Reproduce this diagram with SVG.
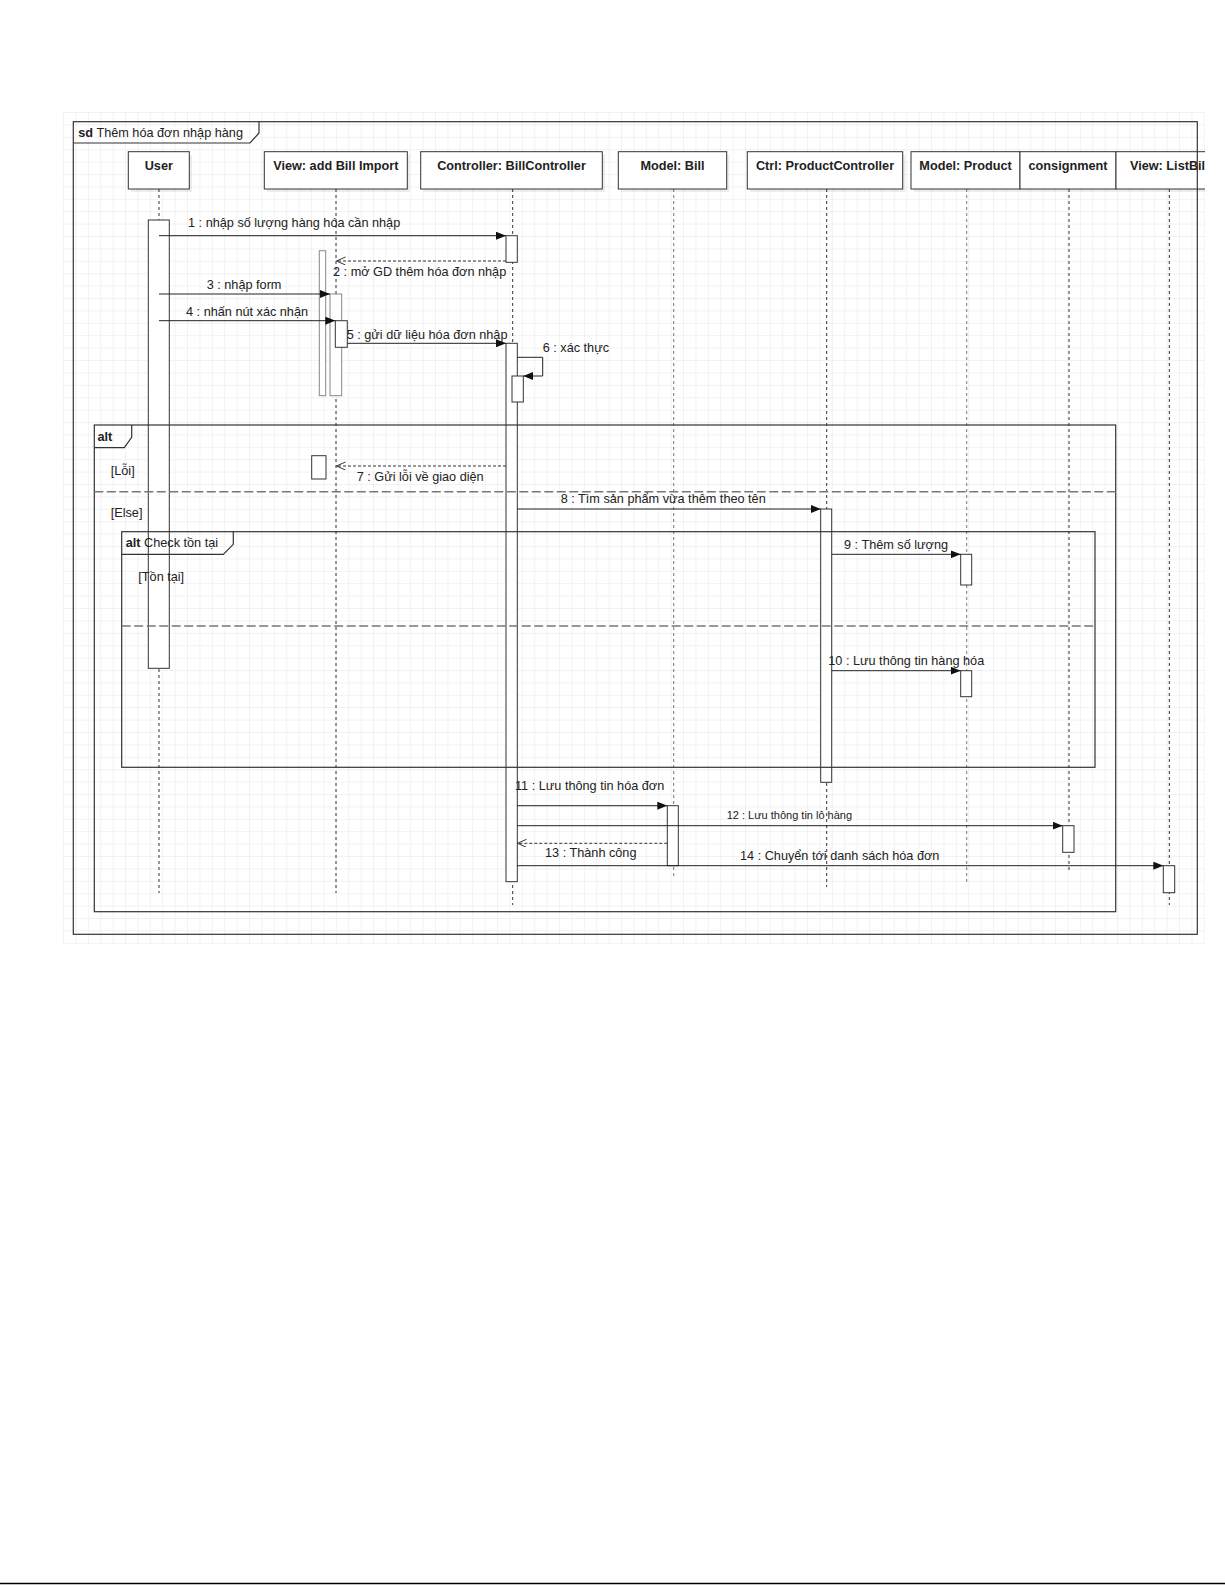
<svg xmlns="http://www.w3.org/2000/svg" width="1225" height="1585" viewBox="0 0 1225 1585">
<style>
.t{font-family:"Liberation Sans",Arial,sans-serif;font-size:12.7px;fill:#222}
.s{font-size:11px}
.b{font-weight:bold}
.box{fill:#fff;stroke:#333;stroke-width:1}
.shd{fill:#000;opacity:0.07}
.life{stroke:#333;stroke-width:1;stroke-dasharray:3 3;fill:none}
.lifeg{stroke:#777;stroke-width:1;stroke-dasharray:3 3;fill:none}
.act{fill:#fff;stroke:#333;stroke-width:1}
.actg{fill:#fff;stroke:#888;stroke-width:1}
.frame{fill:none;stroke:#333;stroke-width:1.2}
.sep{stroke:#777;stroke-width:1.6;stroke-dasharray:9 3.5;fill:none}
.msg{stroke:#222;stroke-width:1;fill:none;marker-end:url(#filled)}
.ret{stroke:#333;stroke-width:1;stroke-dasharray:3 2;fill:none;marker-end:url(#open)}
</style>
<defs>
<pattern id="grid" x="63" y="112" width="12.4" height="12.4" patternUnits="userSpaceOnUse">
<path d="M0 0 V12.4 M0 0 H12.4" stroke="#e6e6e6" stroke-width="1" fill="none"/>
</pattern>
<clipPath id="clip"><rect x="0" y="0" width="1205" height="1585"/></clipPath>
<marker id="filled" markerWidth="10" markerHeight="8" refX="10" refY="4" orient="auto" markerUnits="userSpaceOnUse">
<path d="M0,0 L10,4 L0,8 z" fill="#111"/>
</marker>
<marker id="open" markerWidth="10" markerHeight="10" refX="9" refY="4" orient="auto" markerUnits="userSpaceOnUse">
<path d="M0,0 L9,4 L0,8" fill="none" stroke="#333" stroke-width="1"/>
</marker>
</defs>
<rect x="0" y="0" width="1225" height="1585" fill="#fff"/>
<g clip-path="url(#clip)">
<rect x="63" y="112" width="1142" height="833" fill="url(#grid)"/>

<!-- lifelines -->
<g id="lifelines">
<line class="life" x1="159" y1="189" x2="159" y2="893"/>
<line class="life" x1="336" y1="189" x2="336" y2="893"/>
<line class="life" x1="512.7" y1="189" x2="512.7" y2="905"/>
<line class="lifeg" x1="673.7" y1="189" x2="673.7" y2="877"/>
<line class="life" x1="826.7" y1="189" x2="826.7" y2="887"/>
<line class="lifeg" x1="966.7" y1="189" x2="966.7" y2="882"/>
<line class="life" x1="1069" y1="189" x2="1069" y2="871"/>
<line class="life" x1="1169.3" y1="189" x2="1169.3" y2="905"/>
</g>

<!-- lifeline heads -->
<g id="user">
<rect class="shd" x="131" y="155" width="61" height="37"/>
<rect class="box" x="128.3" y="151.7" width="61" height="37.3"/>
<text class="t b" x="158.8" y="169.5" text-anchor="middle">User</text>
</g>
<g id="view-add-bill">
<rect class="shd" x="267" y="155" width="143" height="37"/>
<rect class="box" x="264.3" y="151.7" width="143" height="37.3"/>
<text class="t b" x="335.8" y="169.5" text-anchor="middle">View: add Bill Import</text>
</g>
<g id="bill-controller">
<rect class="shd" x="423.5" y="155" width="181.6" height="37"/>
<rect class="box" x="420.7" y="151.7" width="181.6" height="37.3"/>
<text class="t b" x="511.5" y="169.5" text-anchor="middle">Controller: BillController</text>
</g>
<g id="model-bill">
<rect class="shd" x="621" y="155" width="108.4" height="37"/>
<rect class="box" x="618.3" y="151.7" width="108.4" height="37.3"/>
<text class="t b" x="672.5" y="169.5" text-anchor="middle">Model: Bill</text>
</g>
<g id="product-controller">
<rect class="shd" x="750" y="155" width="155.4" height="37"/>
<rect class="box" x="747.3" y="151.7" width="155.4" height="37.3"/>
<text class="t b" x="825" y="169.5" text-anchor="middle">Ctrl: ProductController</text>
</g>
<g id="model-product">
<rect class="shd" x="914" y="155" width="109" height="37"/>
<rect class="box" x="911" y="151.7" width="109" height="37.3"/>
<text class="t b" x="965.5" y="169.5" text-anchor="middle">Model: Product</text>
</g>
<g id="consignment">
<rect class="shd" x="1023" y="155" width="96" height="37"/>
<rect class="box" x="1020" y="151.7" width="96" height="37.3"/>
<text class="t b" x="1068" y="169.5" text-anchor="middle">consignment</text>
</g>
<g id="view-listbill">
<rect class="shd" x="1119" y="155" width="106" height="37"/>
<rect class="box" x="1116" y="151.7" width="106" height="37.3"/>
<text class="t b" x="1169.3" y="169.5" text-anchor="middle">View: ListBill</text>
</g>

<!-- activation bars -->
<g id="activations">
<rect class="act" x="148.3" y="220" width="21" height="448.3"/>
<rect class="actg" x="319.3" y="250.7" width="6.4" height="145"/>
<rect class="actg" x="330" y="294" width="11.7" height="101.7"/>
<rect class="act" x="335.3" y="320.7" width="12" height="26.6"/>
<rect class="act" x="311.7" y="455.7" width="14.3" height="23.3"/>
<rect class="act" x="506" y="235.7" width="11.3" height="26.6"/>
<rect class="act" x="506" y="343.3" width="11.3" height="538.4"/>
<rect class="act" x="512" y="376" width="11.3" height="26"/>
<rect class="act" x="667.3" y="805.7" width="11" height="60"/>
<rect class="act" x="820.7" y="509" width="11" height="273.3"/>
<rect class="act" x="960.7" y="554.3" width="11" height="30.7"/>
<rect class="act" x="960.7" y="670.7" width="11" height="26"/>
<rect class="act" x="1062.7" y="825.7" width="11.3" height="26.6"/>
<rect class="act" x="1163.3" y="865.7" width="11.4" height="27"/>
</g>

<!-- frames -->
<g id="sd-frame">
<rect class="frame" x="73.3" y="121.7" width="1124" height="812.6"/>
<path class="frame" d="M73.3 143 H250 L259 133 V121.7"/>
<text class="t" x="78.3" y="137"><tspan class="b">sd</tspan> Thêm hóa đơn nhập hàng</text>
</g>
<g id="alt-outer">
<rect class="frame" x="94.3" y="425" width="1021.4" height="486.7"/>
<path class="frame" d="M94.3 447.7 H124.3 L131.7 437.3 V425"/>
<text class="t b" x="97.5" y="441">alt</text>
<line class="sep" x1="94.3" y1="491.7" x2="1115.7" y2="491.7"/>
<text class="t" x="110.7" y="474.5">[Lỗi]</text>
<text class="t" x="110.7" y="517">[Else]</text>
</g>
<g id="alt-inner">
<rect class="frame" x="121.7" y="531.7" width="973.3" height="235.6"/>
<path class="frame" d="M121.7 554.3 H223.3 L233.3 544.3 V531.7"/>
<text class="t" x="125.7" y="547"><tspan class="b">alt</tspan> Check tồn tại</text>
<line class="sep" x1="121.7" y1="626" x2="1095" y2="626"/>
<text class="t" x="138.3" y="581">[Tồn tại]</text>
</g>

<!-- connectors -->
<g id="connectors">
<line class="msg" x1="159" y1="235.7" x2="506" y2="235.7"/>
<line class="ret" x1="506" y1="261" x2="336.5" y2="261"/>
<line class="msg" x1="159" y1="294" x2="330" y2="294"/>
<line class="msg" x1="159" y1="320.7" x2="335.3" y2="320.7"/>
<line class="msg" x1="347.3" y1="343.3" x2="506" y2="343.3"/>
<path class="msg" d="M517.3 357.3 H542.7 V376 H523.3"/>
<line class="ret" x1="506" y1="466" x2="336.5" y2="466"/>
<line class="msg" x1="517.3" y1="509" x2="820.7" y2="509"/>
<line class="msg" x1="831.7" y1="554.3" x2="960.7" y2="554.3"/>
<line class="msg" x1="831.7" y1="670.7" x2="960.7" y2="670.7"/>
<line class="msg" x1="517.3" y1="805.7" x2="667.3" y2="805.7"/>
<line class="msg" x1="517.3" y1="825.7" x2="1062.7" y2="825.7"/>
<line class="ret" x1="667.3" y1="843.3" x2="517.5" y2="843.3"/>
<line class="msg" x1="517.3" y1="865.7" x2="1163.3" y2="865.7"/>
</g>

<!-- message labels -->
<g id="labels">
<text class="t" x="188" y="227">1 : nhập số lượng hàng hóa cần nhập</text>
<text class="t" x="333" y="276">2 : mở GD thêm hóa đơn nhập</text>
<text class="t" x="206.7" y="288.5">3 : nhập form</text>
<text class="t" x="186" y="316">4 : nhấn nút xác nhận</text>
<text class="t" x="346.7" y="338.5">5 : gửi dữ liệu hóa đơn nhập</text>
<text class="t" x="542.7" y="351.8">6 : xác thực</text>
<text class="t" x="356.7" y="480.5">7 : Gửi lỗi về giao diện</text>
<text class="t" x="560.7" y="503">8 : Tìm sản phẩm vừa thêm theo tên</text>
<text class="t" x="844" y="549">9 : Thêm số lượng</text>
<text class="t" x="828.3" y="664.5">10 : Lưu thông tin hàng hóa</text>
<text class="t" x="515" y="790">11 : Lưu thông tin hóa đơn</text>
<text class="t s" x="726.7" y="819">12 : Lưu thông tin lô hàng</text>
<text class="t" x="545" y="856.8">13 : Thành công</text>
<text class="t" x="740" y="860">14 : Chuyển tới danh sách hóa đơn</text>
</g>
</g>
<line x1="0" y1="1583.5" x2="1225" y2="1583.5" stroke="#000" stroke-width="1.5"/>
</svg>
